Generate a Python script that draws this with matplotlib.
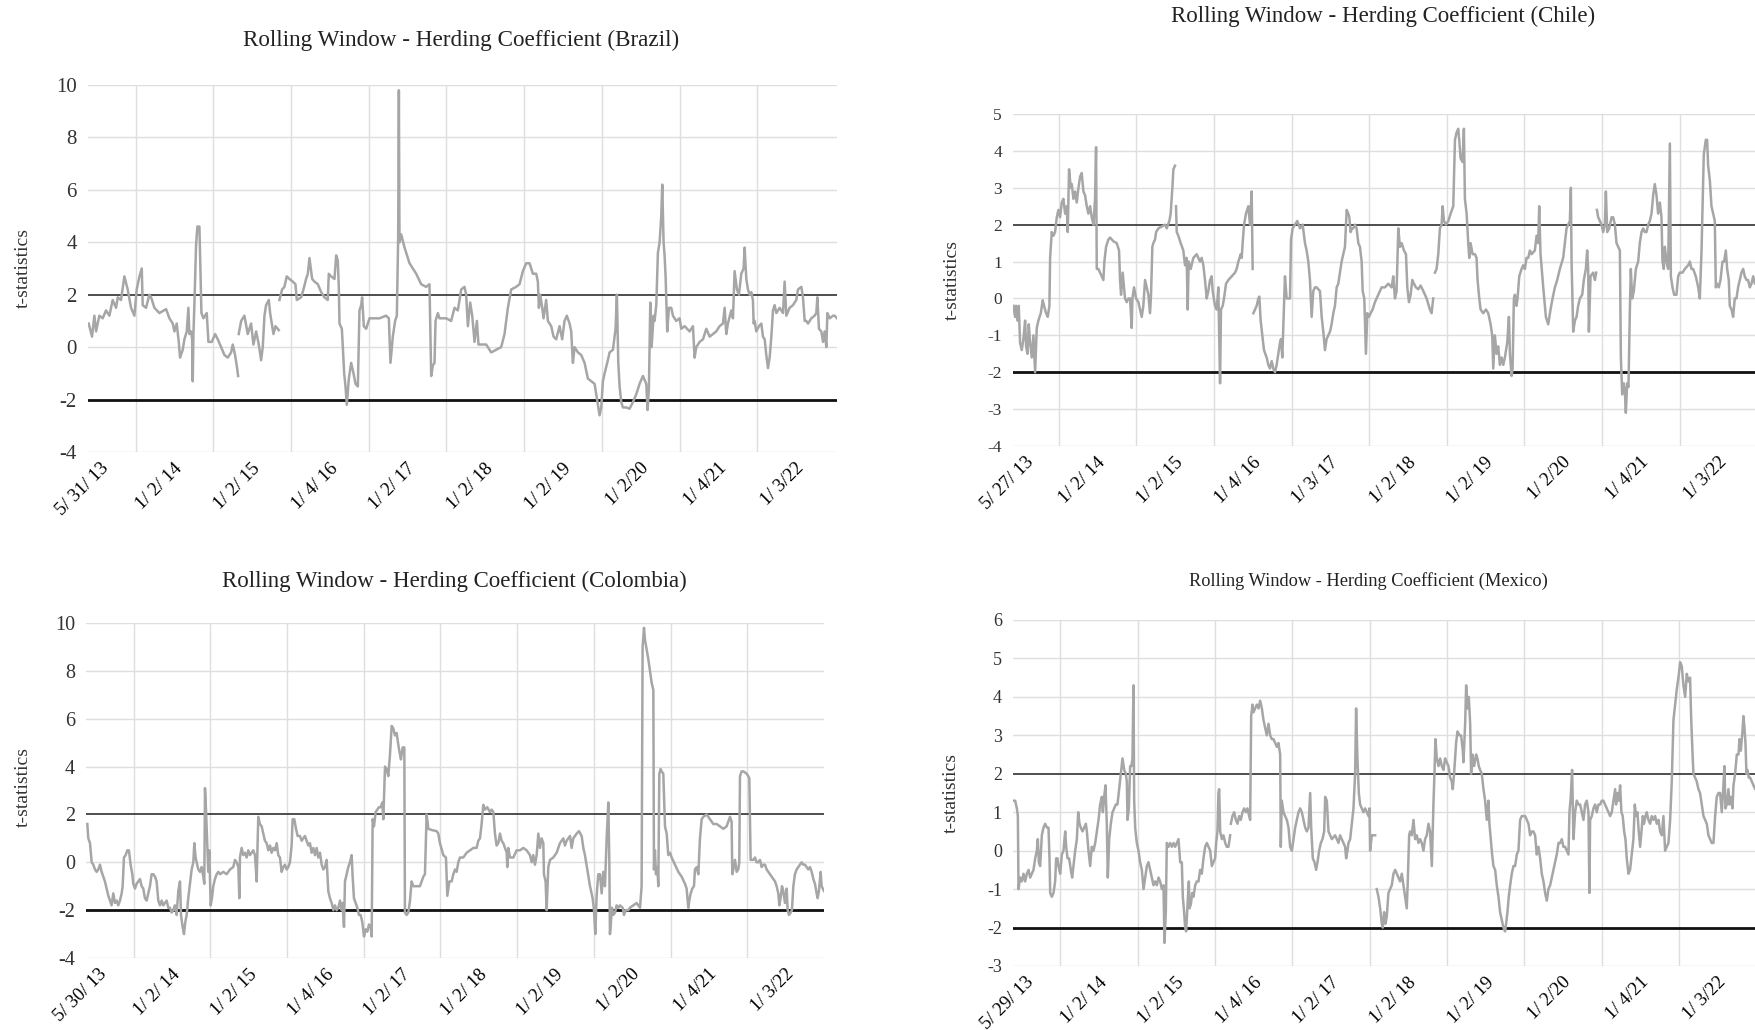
import numpy as np
import matplotlib
matplotlib.use("Agg")
import matplotlib.pyplot as plt
from matplotlib import transforms

plt.rcParams['font.family'] = ['Liberation Serif', 'DejaVu Serif']

# ---------------- DATA (x in decimal years, y = t-statistics) ----------------
brazil_t = [2013.399, 2013.442, 2013.472, 2013.494, 2013.536, 2013.579, 2013.622, 2013.665, 2013.708, 2013.751,
            2013.773, 2013.815, 2013.858, 2013.901, 2013.944, 2013.987, 2014.017, 2014.052, 2014.082, 2014.094,
            2014.137, 2014.180, 2014.202, 2014.245, 2014.309, 2014.395, 2014.438, 2014.481, 2014.502, 2014.532,
            2014.558, 2014.575, 2014.609, 2014.631, 2014.661, 2014.682, 2014.695, 2014.717, 2014.730, 2014.738,
            2014.747, 2014.760, 2014.781, 2014.798, 2014.824, 2014.837, 2014.850, 2014.876, 2014.918, 2014.940,
            2014.983, 2015.026, 2015.060, 2015.103, 2015.146, 2015.189, 2015.232, 2015.253, 2015.283, 2015.309,
            2015.322, 2015.326, 2015.330, 2015.361, 2015.403, 2015.446, 2015.489, 2015.519, 2015.554, 2015.588,
            2015.618, 2015.639, 2015.661, 2015.682, 2015.717, 2015.734, 2015.760, 2015.777, 2015.803, 2015.845,
            2015.850, 2015.854, 2015.888, 2015.918, 2015.948, 2015.983, 2016.026, 2016.060, 2016.077, 2016.133,
            2016.163, 2016.197, 2016.219, 2016.240, 2016.275, 2016.305, 2016.348, 2016.391, 2016.433, 2016.476,
            2016.489, 2016.519, 2016.562, 2016.584, 2016.605, 2016.618, 2016.627, 2016.657, 2016.670, 2016.687,
            2016.704, 2016.721, 2016.747, 2016.777, 2016.807, 2016.833, 2016.863, 2016.884, 2016.906, 2016.918,
            2016.940, 2016.970, 2017.013, 2017.142, 2017.227, 2017.262, 2017.283, 2017.313, 2017.343, 2017.365,
            2017.382, 2017.391, 2017.399, 2017.421, 2017.464, 2017.528, 2017.614, 2017.678, 2017.742, 2017.785,
            2017.794, 2017.807, 2017.828, 2017.850, 2017.863, 2017.893, 2017.914, 2018.000, 2018.064, 2018.107,
            2018.150, 2018.193, 2018.236, 2018.257, 2018.279, 2018.309, 2018.335, 2018.365, 2018.395, 2018.416,
            2018.451, 2018.515, 2018.579, 2018.644, 2018.708, 2018.751, 2018.794, 2018.837, 2018.901, 2018.944,
            2018.987, 2019.030, 2019.073, 2019.116, 2019.159, 2019.180, 2019.193, 2019.210, 2019.236, 2019.253,
            2019.287, 2019.309, 2019.352, 2019.382, 2019.416, 2019.459, 2019.493, 2019.523, 2019.553, 2019.588,
            2019.609, 2019.631, 2019.652, 2019.695, 2019.738, 2019.781, 2019.824, 2019.867, 2019.910, 2019.931,
            2019.953, 2019.974, 2019.996, 2020.017, 2020.039, 2020.081, 2020.103, 2020.146, 2020.180, 2020.197,
            2020.215, 2020.232, 2020.253, 2020.275, 2020.317, 2020.360, 2020.403, 2020.446, 2020.489, 2020.532,
            2020.575, 2020.592, 2020.609, 2020.627, 2020.644, 2020.669, 2020.682, 2020.704, 2020.725, 2020.747,
            2020.768, 2020.781, 2020.798, 2020.811, 2020.824, 2020.845, 2020.867, 2020.897, 2020.918, 2020.961,
            2021.004, 2021.026, 2021.069, 2021.133, 2021.176, 2021.197, 2021.219, 2021.262, 2021.305, 2021.348,
            2021.391, 2021.433, 2021.476, 2021.519, 2021.562, 2021.584, 2021.605, 2021.626, 2021.669, 2021.691,
            2021.712, 2021.742, 2021.768, 2021.798, 2021.828, 2021.841, 2021.863, 2021.884, 2021.906, 2021.927,
            2021.948, 2021.957, 2021.970, 2021.991, 2022.026, 2022.056, 2022.077, 2022.099, 2022.120, 2022.142,
            2022.163, 2022.185, 2022.206, 2022.227, 2022.249, 2022.292, 2022.335, 2022.356, 2022.378, 2022.420,
            2022.463, 2022.506, 2022.528, 2022.571, 2022.592, 2022.614, 2022.635, 2022.657, 2022.700, 2022.742,
            2022.764, 2022.777, 2022.798, 2022.828, 2022.850, 2022.871, 2022.893, 2022.906, 2022.936, 2022.979,
            2023.000, 2023.030]
brazil_v = [0.9, 0.4, 1.2, 0.6, 1.2, 1.1, 1.4, 1.2, 1.8, 1.5,
            1.9, 1.8, 2.7, 2.2, 1.5, 1.2, 2.2, 2.7, 3.0, 1.6,
            1.5, 2.0, 1.9, 1.5, 1.3, 1.45, 1.1, 0.9, 0.6, 0.9,
            0.2, -0.4, -0.1, 0.3, 0.6, 1.5, 0.5, 0.6, 0.3, -1.3,
            0.5, 1.7, 3.9, 4.6, 4.6, 3.0, 1.3, 1.1, 1.3, 0.2,
            0.2, 0.5, 0.3, 0.0, -0.3, -0.4, -0.2, 0.1, -0.3, -0.8,
            -1.1, np.nan, 0.5, 1.0, 1.2, 0.5, 0.9, 0.1, 0.6, 0.1,
            -0.5, 0.0, 1.2, 1.6, 1.8, 1.3, 0.8, 0.5, 0.8, 0.65,
            np.nan, 1.8, 2.2, 2.3, 2.7, 2.6, 2.5, 2.4, 1.8, 1.9,
            2.2, 2.6, 2.8, 3.4, 2.6, 2.5, 2.4, 2.1, 1.9, 1.8,
            2.8, 2.7, 2.6, 3.5, 3.3, 2.3, 0.9, 0.7, 0.0, -1.0,
            -1.5, -2.2, -1.2, -0.6, -1.0, -1.4, -1.5, 1.4, 1.6, 1.9,
            0.8, 0.7, 1.1, 1.1, 1.2, 1.1, -0.6, 0.4, 1.0, 1.2,
            4.2, 9.8, 4.0, 4.3, 3.8, 3.2, 2.8, 2.4, 2.3, 2.4,
            0.9, -1.1, -0.7, -0.6, 1.0, 1.3, 1.1, 1.1, 1.0, 1.5,
            1.4, 2.2, 2.3, 2.0, 0.8, 1.7, 1.2, 0.2, 1.0, 0.1,
            0.1, 0.1, -0.2, -0.1, 0.0, 0.5, 1.5, 2.2, 2.3, 2.4,
            2.9, 3.2, 3.2, 2.8, 2.8, 2.5, 1.5, 2.0, 1.5, 1.1,
            1.8, 1.0, 0.8, 0.4, 0.3, 0.8, 0.3, 1.0, 1.2, 0.9,
            0.6, -0.6, 0.0, -0.2, -0.3, -0.6, -1.2, -1.3, -1.4, -1.8,
            -2.2, -2.6, -2.3, -1.3, -1.0, -0.5, -0.2, -0.1, 0.7, 2.0,
            -0.6, -1.5, -2.1, -2.3, -2.3, -2.35, -2.1, -1.8, -1.4, -1.1,
            -1.4, -2.4, -1.6, 1.7, 0.0, 1.2, 1.0, 1.6, 3.6, 4.0,
            5.0, 6.2, 4.0, 3.5, 2.7, 0.6, 1.5, 1.5, 1.2, 1.0,
            1.1, 0.7, 0.8, 0.6, 0.8, -0.4, 0.0, 0.2, 0.3, 0.7,
            0.4, 0.5, 0.6, 0.8, 0.9, 1.5, 0.5, 0.9, 1.4, 1.1,
            2.9, 2.2, 2.0, 2.8, 3.0, 3.8, 2.6, 2.2, 2.0, 2.1,
            1.8, 0.9, 1.0, 0.6, 0.8, 0.9, 0.4, 0.3, -0.3, -0.8,
            -0.4, 0.4, 1.4, 1.6, 1.3, 1.5, 1.3, 2.5, 1.2, 1.5,
            1.6, 1.8, 2.2, 2.3, 1.9, 1.0, 1.0, 0.9, 1.1, 1.2,
            1.3, 1.9, 0.7, 0.6, 0.2, 0.6, 0.0, 1.3, 1.1, 1.2,
            1.2, 1.1]

chile_t = [2013.421, 2013.442, 2013.455, 2013.472, 2013.489, 2013.506, 2013.528, 2013.549, 2013.571, 2013.584,
           2013.601, 2013.618, 2013.635, 2013.657, 2013.678, 2013.700, 2013.721, 2013.742, 2013.773, 2013.798,
           2013.815, 2013.841, 2013.863, 2013.884, 2013.893, 2013.914, 2013.936, 2013.957, 2013.979, 2014.000,
           2014.021, 2014.043, 2014.064, 2014.086, 2014.107, 2014.120, 2014.137, 2014.159, 2014.172, 2014.193,
           2014.215, 2014.236, 2014.258, 2014.279, 2014.300, 2014.322, 2014.343, 2014.365, 2014.386, 2014.408,
           2014.429, 2014.451, 2014.472, 2014.485, 2014.494, 2014.515, 2014.536, 2014.558, 2014.579, 2014.592,
           2014.614, 2014.644, 2014.665, 2014.708, 2014.751, 2014.781, 2014.794, 2014.807, 2014.828, 2014.845,
           2014.858, 2014.880, 2014.901, 2014.923, 2014.944, 2014.953, 2014.974, 2015.000, 2015.030, 2015.052,
           2015.073, 2015.094, 2015.116, 2015.137, 2015.159, 2015.180, 2015.193, 2015.210, 2015.223, 2015.245,
           2015.258, 2015.288, 2015.330, 2015.373, 2015.395, 2015.429, 2015.446, 2015.468, 2015.481, 2015.502,
           2015.510, 2015.515, 2015.524, 2015.545, 2015.575, 2015.609, 2015.631, 2015.652, 2015.665, 2015.678,
           2015.704, 2015.738, 2015.781, 2015.824, 2015.845, 2015.867, 2015.888, 2015.910, 2015.931, 2015.953,
           2015.974, 2015.987, 2016.017, 2016.039, 2016.060, 2016.082, 2016.094, 2016.116, 2016.133, 2016.159,
           2016.189, 2016.232, 2016.275, 2016.296, 2016.318, 2016.348, 2016.361, 2016.373, 2016.391, 2016.416,
           2016.446, 2016.468, 2016.489, 2016.502, 2016.506, 2016.511, 2016.532, 2016.554, 2016.575, 2016.588,
           2016.605, 2016.627, 2016.648, 2016.682, 2016.704, 2016.725, 2016.747, 2016.768, 2016.790, 2016.811,
           2016.833, 2016.854, 2016.867, 2016.884, 2016.918, 2016.940, 2016.961, 2016.983, 2016.996, 2017.017,
           2017.047, 2017.077, 2017.112, 2017.146, 2017.176, 2017.197, 2017.219, 2017.240, 2017.262, 2017.283,
           2017.305, 2017.326, 2017.369, 2017.391, 2017.412, 2017.433, 2017.455, 2017.498, 2017.519, 2017.541,
           2017.562, 2017.584, 2017.605, 2017.627, 2017.648, 2017.670, 2017.691, 2017.713, 2017.734, 2017.747,
           2017.764, 2017.781, 2017.798, 2017.820, 2017.841, 2017.863, 2017.884, 2017.906, 2017.919, 2017.940,
           2017.961, 2017.979, 2018.000, 2018.022, 2018.047, 2018.077, 2018.120, 2018.163, 2018.206, 2018.249,
           2018.292, 2018.313, 2018.335, 2018.356, 2018.378, 2018.399, 2018.421, 2018.451, 2018.477, 2018.494,
           2018.515, 2018.537, 2018.558, 2018.580, 2018.605, 2018.635, 2018.665, 2018.700, 2018.743, 2018.785,
           2018.807, 2018.828, 2018.840, 2018.850, 2018.871, 2018.893, 2018.914, 2018.936, 2018.949, 2018.966,
           2018.992, 2019.022, 2019.052, 2019.086, 2019.108, 2019.129, 2019.150, 2019.163, 2019.180, 2019.206,
           2019.223, 2019.236, 2019.258, 2019.279, 2019.292, 2019.309, 2019.335, 2019.365, 2019.386, 2019.399,
           2019.421, 2019.438, 2019.472, 2019.507, 2019.537, 2019.567, 2019.588, 2019.601, 2019.622, 2019.644,
           2019.665, 2019.687, 2019.708, 2019.730, 2019.751, 2019.781, 2019.803, 2019.816, 2019.837, 2019.850,
           2019.867, 2019.880, 2019.901, 2019.914, 2019.936, 2019.966, 2019.987, 2020.009, 2020.030, 2020.052,
           2020.073, 2020.095, 2020.137, 2020.159, 2020.180, 2020.193, 2020.210, 2020.245, 2020.279, 2020.309,
           2020.339, 2020.365, 2020.395, 2020.425, 2020.459, 2020.502, 2020.524, 2020.545, 2020.567, 2020.588,
           2020.601, 2020.610, 2020.631, 2020.653, 2020.674, 2020.695, 2020.717, 2020.747, 2020.768, 2020.794,
           2020.811, 2020.824, 2020.833, 2020.854, 2020.888, 2020.910, 2020.927, 2020.931, 2020.936, 2020.953,
           2020.975, 2020.996, 2021.017, 2021.039, 2021.052, 2021.069, 2021.095, 2021.125, 2021.146, 2021.168,
           2021.189, 2021.210, 2021.232, 2021.245, 2021.262, 2021.283, 2021.296, 2021.309, 2021.326, 2021.343,
           2021.361, 2021.373, 2021.391, 2021.412, 2021.438, 2021.468, 2021.489, 2021.511, 2021.532, 2021.554,
           2021.575, 2021.597, 2021.618, 2021.640, 2021.661, 2021.682, 2021.704, 2021.725, 2021.747, 2021.768,
           2021.781, 2021.798, 2021.811, 2021.833, 2021.854, 2021.876, 2021.889, 2021.910, 2021.931, 2021.961,
           2021.983, 2022.004, 2022.039, 2022.069, 2022.112, 2022.133, 2022.155, 2022.176, 2022.210, 2022.241,
           2022.262, 2022.284, 2022.296, 2022.313, 2022.339, 2022.356, 2022.369, 2022.391, 2022.412, 2022.434,
           2022.455, 2022.468, 2022.485, 2022.507, 2022.528, 2022.554, 2022.575, 2022.597, 2022.614, 2022.635,
           2022.648, 2022.670, 2022.691, 2022.712, 2022.734, 2022.755, 2022.777, 2022.798, 2022.820, 2022.841,
           2022.863, 2022.884, 2022.906, 2022.927, 2022.949, 2022.970, 2023.000]
chile_v = [-0.2, -0.5, -0.2, -0.6, -0.2, -1.2, -1.4, -1.1, -0.6, -1.3,
           -1.5, -0.7, -1.2, -1.6, -1.0, -2.0, -0.8, -0.6, -0.4, -0.05,
           -0.2, -0.4, -0.5, -0.2, 1.1, 1.8, 1.7, 1.8, 2.2, 2.4,
           2.2, 2.6, 2.7, 2.3, 2.5, 1.8, 3.5, 3.0, 3.1, 2.7,
           2.9, 2.6, 3.0, 3.3, 3.4, 2.9, 2.8, 2.5, 2.3, 2.5,
           2.2, 2.0, 2.7, 4.1, 0.8, 0.8, 0.7, 0.6, 0.5, 1.0,
           1.4, 1.6, 1.65, 1.55, 1.5, 1.3, 0.5, 0.1, 0.7, 0.3,
           0.0, -0.1, 0.0, 0.0, -0.8, 0.0, 0.3, 0.0, -0.1, -0.3,
           -0.5, -0.2, 0.5, 0.3, 0.1, -0.4, 0.1, 1.4, 1.5, 1.6,
           1.8, 1.9, 1.95, 2.0, 1.9, 2.1, 2.3, 3.0, 3.5, 3.6,
           np.nan, 2.5, 1.8, 1.7, 1.5, 1.3, 0.9, 1.1, -0.3, 1.0,
           0.8, 1.1, 1.2, 1.0, 1.1, 0.9, 0.5, 0.0, 0.2, 0.5,
           0.6, 0.2, -0.2, -0.3, 0.3, -2.3, -0.3, -0.2, 0.0, 0.4,
           0.5, 0.6, 0.7, 0.8, 1.0, 1.2, 1.1, 1.5, 2.0, 2.3,
           2.5, 2.0, 2.9, 0.8, np.nan, -0.4, -0.3, -0.2, 0.0, 0.05,
           -0.6, -1.0, -1.4, -1.6, -1.8, -1.9, -1.7, -1.9, -2.0, -1.8,
           -1.5, -1.2, -1.1, -1.6, 0.6, 0.0, 0.0, 0.0, 1.6, 1.9,
           2.0, 2.1, 1.9, 2.0, 1.5, 1.3, 1.0, 0.5, -0.5, 0.2,
           0.3, 0.3, 0.2, -0.5, -0.9, -1.4, -1.1, -0.9, -0.7, -0.4,
           -0.2, 0.3, 0.4, 0.7, 1.0, 1.2, 1.4, 2.4, 2.3, 2.2,
           1.8, 1.9, 1.9, 2.0, 1.9, 1.5, 1.4, 1.0, 0.2, 0.0,
           -1.5, -0.4, -0.5, -0.4, -0.3, -0.1, 0.1, 0.3, 0.3, 0.4,
           0.3, 0.6, 0.0, 0.2, 1.9, 1.4, 1.5, 1.3, 1.2, 0.3,
           -0.1, 0.1, 0.5, 0.4, 0.3, 0.25, 0.35, 0.2, 0.0, -0.3,
           -0.4, 0.0, np.nan, 0.7, 0.8, 1.2, 1.9, 2.0, 2.5, 2.1,
           2.0, 2.1, 2.3, 2.5, 4.3, 4.5, 4.6, 4.3, 3.8, 3.7,
           4.6, 2.7, 2.3, 1.5, 1.1, 1.5, 1.2, 1.2, 1.1, 0.5,
           0.0, -0.3, -0.4, -0.3, -0.4, -0.7, -1.0, -1.9, -1.0, -1.5,
           -1.3, -1.8, -1.6, -1.8, -1.6, -1.2, -0.5, -1.5, -2.1, -1.9,
           0.0, 0.1, -0.2, 0.0, 0.6, 0.8, 0.9, 0.8, 1.1, 1.1,
           1.3, 1.2, 1.3, 1.7, 1.5, 2.5, 1.2, 0.3, -0.5, -0.7,
           -0.3, 0.0, 0.3, 0.5, 0.8, 1.1, 1.5, 1.9, 2.0, 2.1,
           3.0, 1.0, -0.9, -0.6, -0.5, -0.2, 0.0, 0.1, 0.5, 0.8,
           1.3, 0.8, -0.9, 0.6, 0.7, 0.5, 0.7, np.nan, 2.4, 2.2,
           2.1, 2.0, 1.8, 2.0, 2.9, 1.8, 1.9, 2.2, 2.2, 2.0,
           1.5, 1.4, 1.3, -1.6, -2.6, -2.3, -2.5, -3.1, -2.3, -2.4,
           -0.3, 0.8, 0.0, 0.2, 0.8, 1.0, 1.5, 1.8, 1.9, 1.8,
           1.8, 2.0, 2.1, 2.3, 2.8, 3.1, 2.8, 2.3, 2.6, 2.2,
           1.0, 0.8, 1.4, 1.0, 0.8, 4.2, 0.6, 0.3, 0.1, 0.1,
           0.6, 0.7, 0.7, 0.8, 0.9, 1.0, 0.8, 0.8, 0.6, 0.3,
           0.0, 1.3, 2.4, 3.9, 4.3, 4.3, 3.6, 3.2, 2.5, 2.3,
           2.1, 0.3, 0.4, 0.3, 0.5, 1.0, 1.0, 1.3, 0.8, 0.5,
           -0.2, -0.3, -0.5, 0.0, 0.0, 0.3, 0.5, 0.7, 0.8, 0.6,
           0.5, 0.5, 0.3, 0.4, 0.6, 0.4, 0.5]

colombia_t = [2013.400, 2013.413, 2013.435, 2013.457, 2013.478, 2013.500, 2013.522, 2013.543, 2013.565, 2013.587,
              2013.609, 2013.630, 2013.652, 2013.674, 2013.696, 2013.717, 2013.739, 2013.761, 2013.783, 2013.804,
              2013.826, 2013.848, 2013.861, 2013.878, 2013.900, 2013.922, 2013.943, 2013.965, 2013.987, 2014.000,
              2014.022, 2014.043, 2014.065, 2014.087, 2014.109, 2014.130, 2014.152, 2014.174, 2014.196, 2014.217,
              2014.239, 2014.261, 2014.283, 2014.304, 2014.326, 2014.348, 2014.370, 2014.391, 2014.413, 2014.435,
              2014.457, 2014.478, 2014.500, 2014.522, 2014.543, 2014.565, 2014.587, 2014.609, 2014.622, 2014.643,
              2014.661, 2014.678, 2014.696, 2014.717, 2014.739, 2014.761, 2014.783, 2014.796, 2014.813, 2014.826,
              2014.848, 2014.870, 2014.891, 2014.913, 2014.926, 2014.935, 2014.948, 2014.965, 2014.978, 2014.991,
              2015.009, 2015.026, 2015.043, 2015.065, 2015.087, 2015.109, 2015.130, 2015.174, 2015.217, 2015.261,
              2015.304, 2015.326, 2015.348, 2015.370, 2015.383, 2015.391, 2015.413, 2015.435, 2015.457, 2015.478,
              2015.500, 2015.522, 2015.543, 2015.565, 2015.587, 2015.609, 2015.630, 2015.652, 2015.674, 2015.696,
              2015.717, 2015.739, 2015.761, 2015.783, 2015.804, 2015.826, 2015.848, 2015.870, 2015.891, 2015.913,
              2015.935, 2015.957, 2015.978, 2016.000, 2016.022, 2016.043, 2016.065, 2016.078, 2016.100, 2016.122,
              2016.143, 2016.174, 2016.196, 2016.217, 2016.239, 2016.261, 2016.283, 2016.304, 2016.326, 2016.348,
              2016.370, 2016.391, 2016.413, 2016.435, 2016.457, 2016.478, 2016.500, 2016.522, 2016.543, 2016.565,
              2016.587, 2016.609, 2016.630, 2016.652, 2016.674, 2016.696, 2016.717, 2016.730, 2016.748, 2016.761,
              2016.783, 2016.804, 2016.826, 2016.848, 2016.861, 2016.878, 2016.900, 2016.922, 2016.943, 2016.965,
              2016.987, 2017.009, 2017.030, 2017.052, 2017.074, 2017.096, 2017.109, 2017.122, 2017.139, 2017.161,
              2017.183, 2017.204, 2017.226, 2017.248, 2017.261, 2017.283, 2017.304, 2017.326, 2017.348, 2017.370,
              2017.391, 2017.413, 2017.435, 2017.457, 2017.478, 2017.491, 2017.513, 2017.535, 2017.543, 2017.565,
              2017.587, 2017.609, 2017.630, 2017.652, 2017.696, 2017.739, 2017.783, 2017.804, 2017.826, 2017.848,
              2017.891, 2017.957, 2017.978, 2018.000, 2018.043, 2018.078, 2018.096, 2018.122, 2018.152, 2018.174,
              2018.196, 2018.217, 2018.239, 2018.261, 2018.304, 2018.348, 2018.391, 2018.435, 2018.478, 2018.500,
              2018.522, 2018.543, 2018.565, 2018.587, 2018.617, 2018.652, 2018.674, 2018.696, 2018.717, 2018.739,
              2018.761, 2018.783, 2018.804, 2018.826, 2018.870, 2018.878, 2018.891, 2018.913, 2018.957, 2019.000,
              2019.043, 2019.087, 2019.130, 2019.174, 2019.196, 2019.217, 2019.239, 2019.261, 2019.283, 2019.304,
              2019.326, 2019.348, 2019.356, 2019.378, 2019.391, 2019.413, 2019.435, 2019.478, 2019.522, 2019.565,
              2019.609, 2019.630, 2019.652, 2019.674, 2019.696, 2019.717, 2019.739, 2019.783, 2019.813, 2019.848,
              2019.870, 2019.891, 2019.922, 2019.957, 2019.991, 2020.009, 2020.026, 2020.043, 2020.065, 2020.087,
              2020.109, 2020.130, 2020.152, 2020.174, 2020.196, 2020.209, 2020.217, 2020.230, 2020.243, 2020.261,
              2020.283, 2020.304, 2020.326, 2020.348, 2020.383, 2020.400, 2020.422, 2020.457, 2020.478, 2020.522,
              2020.565, 2020.609, 2020.630, 2020.643, 2020.661, 2020.674, 2020.696, 2020.717, 2020.739, 2020.761,
              2020.783, 2020.791, 2020.804, 2020.817, 2020.835, 2020.848, 2020.861, 2020.878, 2020.891, 2020.913,
              2020.935, 2020.957, 2020.978, 2021.000, 2021.022, 2021.065, 2021.109, 2021.152, 2021.196, 2021.217,
              2021.239, 2021.252, 2021.270, 2021.291, 2021.313, 2021.326, 2021.348, 2021.370, 2021.391, 2021.413,
              2021.435, 2021.478, 2021.522, 2021.565, 2021.609, 2021.652, 2021.696, 2021.739, 2021.761, 2021.783,
              2021.804, 2021.813, 2021.826, 2021.848, 2021.870, 2021.891, 2021.904, 2021.913, 2021.935, 2021.957,
              2022.000, 2022.022, 2022.035, 2022.052, 2022.065, 2022.087, 2022.109, 2022.130, 2022.152, 2022.174,
              2022.196, 2022.217, 2022.239, 2022.261, 2022.283, 2022.304, 2022.326, 2022.348, 2022.370, 2022.391,
              2022.413, 2022.426, 2022.443, 2022.461, 2022.478, 2022.500, 2022.522, 2022.535, 2022.552, 2022.574,
              2022.591, 2022.609, 2022.630, 2022.652, 2022.674, 2022.696, 2022.717, 2022.739, 2022.761, 2022.783,
              2022.804, 2022.826, 2022.848, 2022.870, 2022.891, 2022.913, 2022.926, 2022.943, 2022.957, 2022.965,
              2022.978, 2023.009]
colombia_v = [1.6, 1.0, 0.8, 0.0, -0.1, -0.3, -0.4, -0.3, -0.1, -0.4,
              -0.6, -0.8, -1.1, -1.4, -1.6, -1.8, -1.3, -1.7, -1.6, -1.8,
              -1.6, -1.3, -1.0, 0.2, 0.3, 0.5, 0.5, -0.1, -0.5, -0.9,
              -1.1, -0.9, -0.8, -0.7, -1.0, -1.1, -1.5, -1.6, -1.3, -1.0,
              -0.5, -0.5, -0.6, -0.8, -1.6, -1.8, -1.6, -1.8, -1.7, -1.6,
              -1.9, -1.9, -2.1, -2.0, -1.8, -2.2, -1.2, -0.8, -2.2, -2.7,
              -3.0, -2.5, -2.2, -1.5, -0.9, -0.3, 0.0, 0.8, 0.2, 0.0,
              -0.3, -0.4, -0.2, -0.6, -0.9, 3.1, 2.2, 0.7, -0.4, 0.5,
              -1.8, -1.5, -1.0, -0.7, -0.5, -0.4, -0.5, -0.4, -0.5, -0.3,
              -0.2, 0.1, 0.0, -0.2, -1.5, 0.2, 0.6, 0.3, 0.4, 0.2,
              0.5, 0.3, 0.4, 0.5, 0.3, -0.8, 1.9, 1.6, 1.5, 1.2,
              0.9, 0.8, 0.5, 0.7, 0.4, 0.6, 0.5, 0.8, 0.3, 0.2,
              -0.4, -0.2, -0.1, -0.3, -0.2, 0.0, 0.7, 1.8, 1.8, 1.4,
              1.1, 1.1, 0.9, 1.0, 1.1, 0.9, 0.7, 0.8, 0.4, 0.6,
              0.3, 0.6, 0.2, 0.4, -0.1, -0.3, -0.2, 0.1, -1.2, -1.5,
              -1.7, -2.0, -1.8, -2.0, -1.9, -1.6, -2.0, -1.7, -2.7, -0.8,
              -0.5, -0.2, 0.0, 0.3, -0.6, -1.5, -1.7, -1.9, -2.2, -2.2,
              -2.5, -3.1, -2.8, -2.9, -2.6, -2.7, -3.1, 1.8, 1.5, 2.1,
              2.2, 2.3, 2.3, 2.5, 1.8, 4.0, 3.9, 3.6, 4.5, 5.7,
              5.6, 5.3, 5.4, 4.9, 4.5, 4.3, 4.8, 4.8, -2.1, -2.2,
              -2.1, -1.6, -0.8, -1.0, -1.0, -1.0, -0.6, -0.5, 2.0, 1.4,
              1.35, 1.3, 1.2, 0.8, 0.3, 0.2, -1.4, -0.8, -0.8, -0.5,
              -0.3, -0.4, 0.0, 0.2, 0.2, 0.4, 0.5, 0.6, 0.6, 0.9,
              1.0, 1.6, 2.4, 2.2, 2.3, 2.1, 2.2, 2.1, 1.2, 0.7,
              0.8, 1.2, 0.9, 0.8, 0.4, -0.2, 0.6, 0.2, 0.2, 0.5,
              0.5, 0.6, 0.5, 0.3, 0.0, 0.3, -0.1, 0.3, 1.2, 0.6,
              1.0, 0.8, -0.5, -0.8, -2.0, -0.2, 0.1, 0.2, 0.4, 0.8,
              1.0, 0.7, 0.9, 1.0, 1.1, 0.6, 1.0, 1.2, 1.3, 1.1,
              0.6, 0.3, -0.3, -1.0, -1.5, -2.0, -3.0, -1.4, -0.5, -0.5,
              -1.3, -0.4, -1.0, 1.0, 2.5, 0.0, -3.0, -2.5, -1.9, -2.2,
              -2.1, -1.8, -1.9, -1.8, -1.9, -2.2, -2.0, -2.0, -1.9, -1.8,
              -1.7, -1.9, -1.0, 9.0, 9.8, 9.3, 8.9, 8.5, 8.0, 7.5,
              7.2, -0.3, 0.5, -0.5, -0.2, -1.0, 3.7, 3.9, 3.8, 3.7,
              1.5, 1.2, 0.3, 0.4, 0.2, -0.1, -0.4, -0.6, -0.9, -1.1,
              -1.9, -1.6, -1.3, -1.1, -1.0, -0.3, -0.2, -0.5, 1.0, 1.8,
              1.9, 2.0, 1.8, 1.6, 1.6, 1.5, 1.4, 1.5, 1.7, 1.9,
              1.7, -0.5, -0.3, 0.1, -0.4, -0.3, 0.0, 3.6, 3.8, 3.8,
              3.7, 3.6, 3.5, 0.1, 0.1, 0.1, 0.2, 0.0, 0.0, 0.1,
              -0.2, -0.1, -0.1, -0.3, -0.4, -0.5, -0.6, -0.7, -0.8, -1.0,
              -1.3, -1.8, -1.5, -1.0, -1.2, -1.7, -1.1, -2.0, -2.2, -2.1,
              -2.0, -1.0, -0.5, -0.3, -0.2, -0.1, 0.0, -0.1, -0.1, -0.2,
              -0.3, -0.2, -0.4, -0.7, -0.9, -1.3, -1.5, -1.2, -0.7, -0.4,
              -1.0, -1.2]

mexico_t = [2013.397, 2013.418, 2013.440, 2013.453, 2013.461, 2013.483, 2013.504, 2013.526, 2013.547, 2013.569,
            2013.591, 2013.612, 2013.634, 2013.655, 2013.677, 2013.698, 2013.711, 2013.724, 2013.741, 2013.763,
            2013.784, 2013.806, 2013.828, 2013.849, 2013.862, 2013.871, 2013.892, 2013.914, 2013.935, 2013.948,
            2013.966, 2013.978, 2014.000, 2014.022, 2014.043, 2014.065, 2014.078, 2014.095, 2014.116, 2014.138,
            2014.155, 2014.172, 2014.194, 2014.216, 2014.233, 2014.250, 2014.267, 2014.289, 2014.310, 2014.332,
            2014.345, 2014.366, 2014.388, 2014.409, 2014.431, 2014.453, 2014.474, 2014.496, 2014.517, 2014.539,
            2014.552, 2014.569, 2014.586, 2014.603, 2014.616, 2014.634, 2014.655, 2014.677, 2014.698, 2014.720,
            2014.741, 2014.763, 2014.784, 2014.806, 2014.828, 2014.849, 2014.862, 2014.871, 2014.888, 2014.905,
            2014.922, 2014.935, 2014.948, 2014.957, 2014.970, 2014.991, 2015.013, 2015.034, 2015.056, 2015.078,
            2015.099, 2015.121, 2015.142, 2015.164, 2015.185, 2015.207, 2015.228, 2015.250, 2015.272, 2015.293,
            2015.315, 2015.336, 2015.349, 2015.366, 2015.379, 2015.401, 2015.422, 2015.444, 2015.466, 2015.487,
            2015.509, 2015.530, 2015.552, 2015.573, 2015.586, 2015.603, 2015.616, 2015.629, 2015.647, 2015.664,
            2015.672, 2015.690, 2015.707, 2015.724, 2015.746, 2015.767, 2015.789, 2015.810, 2015.832, 2015.853,
            2015.875, 2015.897, 2015.918, 2015.940, 2015.961, 2015.983, 2016.004, 2016.017, 2016.034, 2016.047,
            2016.056, 2016.069, 2016.091, 2016.112, 2016.134, 2016.155, 2016.177, 2016.198, 2016.202, 2016.207,
            2016.228, 2016.250, 2016.272, 2016.293, 2016.315, 2016.336, 2016.358, 2016.379, 2016.401, 2016.422,
            2016.444, 2016.457, 2016.470, 2016.487, 2016.500, 2016.522, 2016.543, 2016.565, 2016.586, 2016.608,
            2016.629, 2016.651, 2016.672, 2016.694, 2016.716, 2016.737, 2016.759, 2016.780, 2016.802, 2016.823,
            2016.845, 2016.853, 2016.866, 2016.888, 2016.909, 2016.931, 2016.953, 2016.974, 2016.996, 2017.017,
            2017.039, 2017.060, 2017.082, 2017.103, 2017.125, 2017.147, 2017.168, 2017.190, 2017.211, 2017.233,
            2017.246, 2017.267, 2017.289, 2017.310, 2017.328, 2017.349, 2017.371, 2017.392, 2017.414, 2017.427,
            2017.448, 2017.470, 2017.491, 2017.513, 2017.534, 2017.556, 2017.577, 2017.599, 2017.620, 2017.642,
            2017.663, 2017.685, 2017.698, 2017.715, 2017.728, 2017.750, 2017.771, 2017.793, 2017.814, 2017.827,
            2017.844, 2017.862, 2017.879, 2017.900, 2017.922, 2017.944, 2017.965, 2017.987, 2018.000, 2018.008,
            2018.030, 2018.051, 2018.073, 2018.083, 2018.094, 2018.116, 2018.138, 2018.159, 2018.172, 2018.189,
            2018.207, 2018.224, 2018.245, 2018.267, 2018.288, 2018.310, 2018.332, 2018.353, 2018.375, 2018.396,
            2018.418, 2018.439, 2018.461, 2018.482, 2018.495, 2018.513, 2018.525, 2018.547, 2018.569, 2018.590,
            2018.612, 2018.633, 2018.655, 2018.676, 2018.698, 2018.719, 2018.741, 2018.763, 2018.784, 2018.806,
            2018.827, 2018.840, 2018.853, 2018.870, 2018.892, 2018.913, 2018.935, 2018.957, 2018.978, 2019.000,
            2019.021, 2019.043, 2019.064, 2019.077, 2019.094, 2019.120, 2019.138, 2019.163, 2019.185, 2019.207,
            2019.215, 2019.237, 2019.250, 2019.267, 2019.284, 2019.302, 2019.314, 2019.332, 2019.353, 2019.379,
            2019.396, 2019.413, 2019.431, 2019.452, 2019.474, 2019.495, 2019.517, 2019.538, 2019.551, 2019.569,
            2019.586, 2019.603, 2019.625, 2019.646, 2019.668, 2019.689, 2019.711, 2019.732, 2019.754, 2019.767,
            2019.784, 2019.801, 2019.819, 2019.840, 2019.862, 2019.883, 2019.905, 2019.926, 2019.948, 2019.969,
            2019.991, 2020.013, 2020.034, 2020.056, 2020.077, 2020.099, 2020.120, 2020.142, 2020.163, 2020.185,
            2020.207, 2020.228, 2020.250, 2020.271, 2020.293, 2020.314, 2020.336, 2020.357, 2020.379, 2020.400,
            2020.422, 2020.444, 2020.465, 2020.487, 2020.508, 2020.530, 2020.551, 2020.573, 2020.586, 2020.603,
            2020.620, 2020.638, 2020.659, 2020.681, 2020.702, 2020.724, 2020.745, 2020.767, 2020.788, 2020.810,
            2020.832, 2020.844, 2020.853, 2020.875, 2020.896, 2020.918, 2020.939, 2020.961, 2020.982, 2021.004,
            2021.025, 2021.047, 2021.069, 2021.090, 2021.112, 2021.133, 2021.155, 2021.177, 2021.189, 2021.207,
            2021.224, 2021.241, 2021.258, 2021.275, 2021.293, 2021.310, 2021.327, 2021.349, 2021.370, 2021.392,
            2021.413, 2021.431, 2021.448, 2021.465, 2021.482, 2021.500, 2021.517, 2021.534, 2021.551, 2021.569,
            2021.586, 2021.607, 2021.629, 2021.650, 2021.672, 2021.694, 2021.715, 2021.737, 2021.758, 2021.780,
            2021.801, 2021.823, 2021.844, 2021.866, 2021.888, 2021.909, 2021.931, 2021.952, 2021.974, 2021.995,
            2022.017, 2022.038, 2022.060, 2022.082, 2022.103, 2022.125, 2022.146, 2022.159, 2022.172, 2022.189,
            2022.211, 2022.232, 2022.254, 2022.275, 2022.297, 2022.319, 2022.340, 2022.362, 2022.383, 2022.405,
            2022.426, 2022.448, 2022.470, 2022.491, 2022.513, 2022.534, 2022.556, 2022.577, 2022.590, 2022.603,
            2022.620, 2022.642, 2022.655, 2022.672, 2022.694, 2022.707, 2022.728, 2022.750, 2022.772, 2022.784,
            2022.802, 2022.823, 2022.836, 2022.849, 2022.862, 2022.875, 2022.888, 2022.905, 2022.922, 2022.944,
            2022.966, 2022.987, 2023.010]
mexico_v = [1.3, 1.3, 1.1, 0.9, -1.0, -0.7, -0.8, -0.6, -0.8, -0.6,
            -0.5, -0.7, -0.6, -0.5, -0.2, 0.0, 0.3, -0.3, -0.4, 0.4,
            0.6, 0.7, 0.6, 0.6, -0.2, -1.1, -1.2, -1.1, -0.8, -0.2,
            -0.2, -0.4, -0.6, -0.1, 0.0, 0.5, 0.1, -0.2, -0.2, -0.5,
            -0.7, -0.4, 0.0, 0.3, 1.0, 0.7, 0.6, 0.5, 0.6, 0.7,
            0.5, 0.0, -0.4, 0.1, 0.0, 0.2, 0.5, 0.8, 1.2, 1.4,
            1.0, 1.4, 1.7, 0.7, -0.7, 0.3, 0.7, 1.0, 1.1, 1.2,
            1.2, 1.6, 2.0, 2.4, 2.1, 2.0, 1.8, 0.8, 1.1, 2.2,
            2.2, 2.4, 4.3, 1.3, 0.6, 0.2, 0.0, -0.3, -0.5, -1.0,
            -0.7, -0.4, -0.3, -0.5, -0.7, -0.9, -0.8, -0.9, -0.7, -0.8,
            -1.0, -0.9, -2.4, -1.6, 0.2, 0.1, 0.2, 0.1, 0.2, 0.1,
            0.2, 0.3, -0.3, -0.3, -1.2, -1.6, -2.0, -2.1, -1.4, -0.8,
            -1.5, -1.4, -1.1, -1.2, -0.9, -0.8, -0.8, -0.5, -0.6, -0.2,
            0.1, 0.2, 0.1, 0.0, -0.4, -0.3, -0.2, 0.2, 0.5, 1.5,
            1.6, 0.5, 0.3, 0.4, 0.2, 0.1, 0.1, 0.4, np.nan, 0.7,
            0.9, 1.0, 0.8, 0.7, 0.9, 0.8, 1.0, 1.1, 1.0, 1.1,
            0.9, 0.8, 3.5, 3.8, 3.6, 3.7, 3.8, 3.7, 3.9, 3.7,
            3.4, 3.2, 3.0, 3.3, 3.0, 2.9, 2.9, 2.8, 2.7, 2.8,
            2.5, 0.1, 1.3, 1.0, 0.9, 0.8, 0.6, 0.1, 0.0, 0.3,
            0.6, 0.8, 1.0, 1.1, 1.0, 0.8, 0.6, 0.5, 0.6, 1.5,
            0.6, -0.2, -0.3, -0.5, -0.3, 0.0, 0.2, 0.3, 0.5, 1.4,
            1.3, 0.5, 0.4, 0.3, 0.35, 0.4, 0.3, 0.2, 0.4, 0.3,
            0.2, 0.1, -0.2, 0.0, 0.2, 0.3, 0.7, 1.1, 2.0, 3.7,
            2.4, 1.5, 1.2, 1.1, 1.0, 1.1, 1.0, 0.9, 1.1, 0.0,
            0.4, 0.4, 0.4, np.nan, -1.0, -1.2, -1.5, -1.9, -2.0, -1.6,
            -1.9, -1.7, -1.1, -1.0, -0.9, -0.6, -0.5, -0.6, -0.7, -0.8,
            -0.6, -0.9, -1.2, -1.5, -0.8, 0.4, 0.5, 0.4, 0.8, 0.3,
            0.4, 0.2, 0.3, 0.2, 0.0, 0.3, 0.4, 0.7, 0.5, -0.4,
            1.2, 2.0, 2.9, 2.4, 2.2, 2.4, 2.2, 2.1, 2.4, 2.3,
            2.2, 1.9, 1.8, 1.6, 2.0, 2.8, 3.1, 3.0, 3.0, 2.6,
            2.3, 3.3, 4.3, 3.7, 4.0, 3.3, 2.0, 2.5, 2.2, 2.5,
            2.4, 2.2, 2.1, 2.0, 1.6, 1.3, 0.8, 1.3, 0.7, 0.3,
            -0.1, -0.4, -0.5, -0.9, -1.2, -1.6, -1.8, -2.0, -2.1, -1.9,
            -1.6, -1.2, -0.9, -0.6, -0.4, -0.4, -0.1, 0.0, 0.8, 0.9,
            0.9, 0.9, 0.8, 0.7, 0.4, 0.5, 0.5, 0.4, -0.1, 0.1,
            -0.2, -0.6, -0.8, -1.1, -1.3, -1.0, -0.9, -0.7, -0.5, -0.3,
            -0.1, 0.2, 0.2, 0.3, 0.1, 0.1, 0.0, -0.1, 1.0, 1.4,
            2.1, 0.3, 1.0, 1.3, 1.2, 1.2, 1.0, 0.8, 1.2, 1.3,
            1.0, -1.1, 0.8, 0.9, 1.1, 1.2, 1.0, 1.2, 1.2, 1.3,
            1.3, 1.2, 1.1, 1.0, 0.9, 1.0, 1.3, 1.6, 1.2, 1.5,
            1.3, 1.7, 1.0, 0.9, 0.5, 0.3, -0.2, -0.6, -0.5, -0.1,
            0.3, 1.2, 0.9, 1.0, 0.5, 0.1, 0.5, 0.9, 0.7, 0.9,
            1.0, 0.8, 0.7, 0.9, 0.8, 0.9, 0.7, 0.8, 0.5, 0.4,
            0.9, 0.0, 0.1, 0.2, 0.8, 1.8, 3.4, 3.8, 4.2, 4.5,
            4.9, 4.8, 4.3, 4.0, 4.6, 4.4, 4.5, 3.5, 2.8, 2.0,
            1.9, 1.8, 1.6, 1.5, 1.2, 0.9, 0.8, 0.7, 0.4, 0.3,
            0.2, 0.2, 0.9, 1.4, 1.5, 1.5, 1.0, 1.7, 2.2, 1.1,
            1.2, 1.6, 1.2, 1.4, 1.1, 1.7, 2.0, 2.5, 2.5, 2.9,
            2.6, 3.1, 3.5, 3.2, 2.8, 2.0, 2.1, 1.9, 1.9, 1.8,
            1.7, 1.6, 1.6]

# tick dates (decimal years) and their labels
brazil_ticks = [2013.39, 2014.003, 2015.003, 2016.008, 2017.003, 2018.003, 2019.003, 2020.003, 2021.008, 2022.005]
brazil_labels = ['5/ 31/ 13', '1/ 2/ 14', '1/ 2/ 15', '1/ 4/ 16', '1/ 2/ 17', '1/ 2/ 18', '1/ 2/ 19', '1/ 2/20', '1/ 4/21', '1/ 3/22']
chile_ticks = [2013.415, 2014.003, 2015.003, 2016.008, 2017.005, 2018.003, 2019.003, 2020.003, 2021.008, 2022.005]
chile_labels = ['5/ 27/ 13', '1/ 2/ 14', '1/ 2/ 15', '1/ 4/ 16', '1/ 3/ 17', '1/ 2/ 18', '1/ 2/ 19', '1/ 2/20', '1/ 4/21', '1/ 3/22']
colombia_ticks = [2013.383, 2014.003, 2015.003, 2016.008, 2017.003, 2018.003, 2019.003, 2020.003, 2021.008, 2022.005]
colombia_labels = ['5/ 30/ 13', '1/ 2/ 14', '1/ 2/ 15', '1/ 4/ 16', '1/ 2/ 17', '1/ 2/ 18', '1/ 2/ 19', '1/ 2/20', '1/ 4/21', '1/ 3/22']
mexico_ticks = [2013.39, 2014.003, 2015.003, 2016.008, 2017.003, 2018.003, 2019.003, 2020.003, 2021.008, 2022.005]
mexico_labels = ['5/ 29/ 13', '1/ 2/ 14', '1/ 2/ 15', '1/ 4/ 16', '1/ 2/ 17', '1/ 2/ 18', '1/ 2/ 19', '1/ 2/20', '1/ 4/21', '1/ 3/22']

brazil_yticks = [-4, -2, 0, 2, 4, 6, 8, 10]
chile_yticks = [-4, -3, -2, -1, 0, 1, 2, 3, 4, 5]
colombia_yticks = [-4, -2, 0, 2, 4, 6, 8, 10]
mexico_yticks = [-3, -2, -1, 0, 1, 2, 3, 4, 5, 6]

titles = ['Rolling Window - Herding Coefficient (Brazil)',
          'Rolling Window - Herding Coefficient (Chile)',
          'Rolling Window - Herding Coefficient (Colombia)',
          'Rolling Window - Herding Coefficient (Mexico)']
critical_values = [2, -2]

# ---------------- FIGURE ----------------
W, H = 1755, 1030
fig = plt.figure(figsize=(W / 100, H / 100), dpi=100)

def box(l, t, r, b):
    return [l / W, 1 - b / H, (r - l) / W, (b - t) / H]

panels = [
    dict(t=brazil_t, v=brazil_v, ticks=brazil_ticks, labels=brazil_labels, yticks=brazil_yticks,
         xlim=(2013.39, 2023.03), box=box(88, 85, 837, 452), title=titles[0], title_xy=(461, 40), title_fs=16.7,
         ylab_xy=(23, 268), ytick_fs=15),
    dict(t=chile_t, v=chile_v, ticks=chile_ticks, labels=chile_labels, yticks=chile_yticks,
         xlim=(2013.415, 2023.05), box=box(1013, 114, 1761, 446), title=titles[1], title_xy=(1383, 16), title_fs=16.5,
         ylab_xy=(952, 280), ytick_fs=12.5),
    dict(t=colombia_t, v=colombia_v, ticks=colombia_ticks, labels=colombia_labels, yticks=colombia_yticks,
         xlim=(2013.383, 2023.009), box=box(86, 623, 824, 958), title=titles[2], title_xy=(454, 581), title_fs=16.5,
         ylab_xy=(23, 787), ytick_fs=14.5),
    dict(t=mexico_t, v=mexico_v, ticks=mexico_ticks, labels=mexico_labels, yticks=mexico_yticks,
         xlim=(2013.39, 2023.05), box=box(1013, 620, 1760, 966), title=titles[3], title_xy=(1368, 581), title_fs=13.2,
         ylab_xy=(951, 793), ytick_fs=13),
]

text_col = '#333333'
for p in panels:
    ax = fig.add_axes(p['box'])
    ax.set_xlim(*p['xlim'])
    ax.set_ylim(p['yticks'][0], p['yticks'][-1])
    for s in ax.spines.values():
        s.set_visible(False)
    # gridlines
    for yv in p['yticks']:
        if yv not in critical_values:
            ax.axhline(yv, color='#dedede', lw=1.0, zorder=1)
    for xv in p['ticks'][1:]:
        ax.axvline(xv, color='#dedede', lw=1.0, zorder=1)
    ax.axhline(critical_values[0], color='#404040', lw=1.3, zorder=2)
    ax.axhline(critical_values[1], color='#111111', lw=2.0, zorder=2)
    ax.plot(p['t'], p['v'], color='#a6a6a6', lw=1.8, zorder=3)
    ax.set_yticks(p['yticks'])
    ax.set_yticklabels([str(y) for y in p['yticks']])
    ax.tick_params(axis='y', length=0, pad=8, labelsize=p['ytick_fs'], labelcolor=text_col)
    ax.set_xticks([])
    base = transforms.blended_transform_factory(ax.transData, ax.transAxes)
    for i, (xv, lab) in enumerate(zip(p['ticks'], p['labels'])):
        dx = 18 if i == 0 else 44
        tr = transforms.offset_copy(base, fig=fig, x=dx * 0.72, y=-14 * 0.72, units='points')
        ax.text(xv, 0, lab, transform=tr, rotation=45, rotation_mode='anchor',
                ha='right', va='center', fontsize=13.5, color='#000000', clip_on=False)
    fig.text(p['title_xy'][0] / W, 1 - p['title_xy'][1] / H, p['title'], ha='center', va='center',
             fontsize=p['title_fs'], color='#222222')
    fig.text(p['ylab_xy'][0] / W, 1 - p['ylab_xy'][1] / H, 't-statistics', rotation=90,
             ha='center', va='center', fontsize=14, color=text_col)

fig.savefig('out.png', dpi=100, facecolor='white')
